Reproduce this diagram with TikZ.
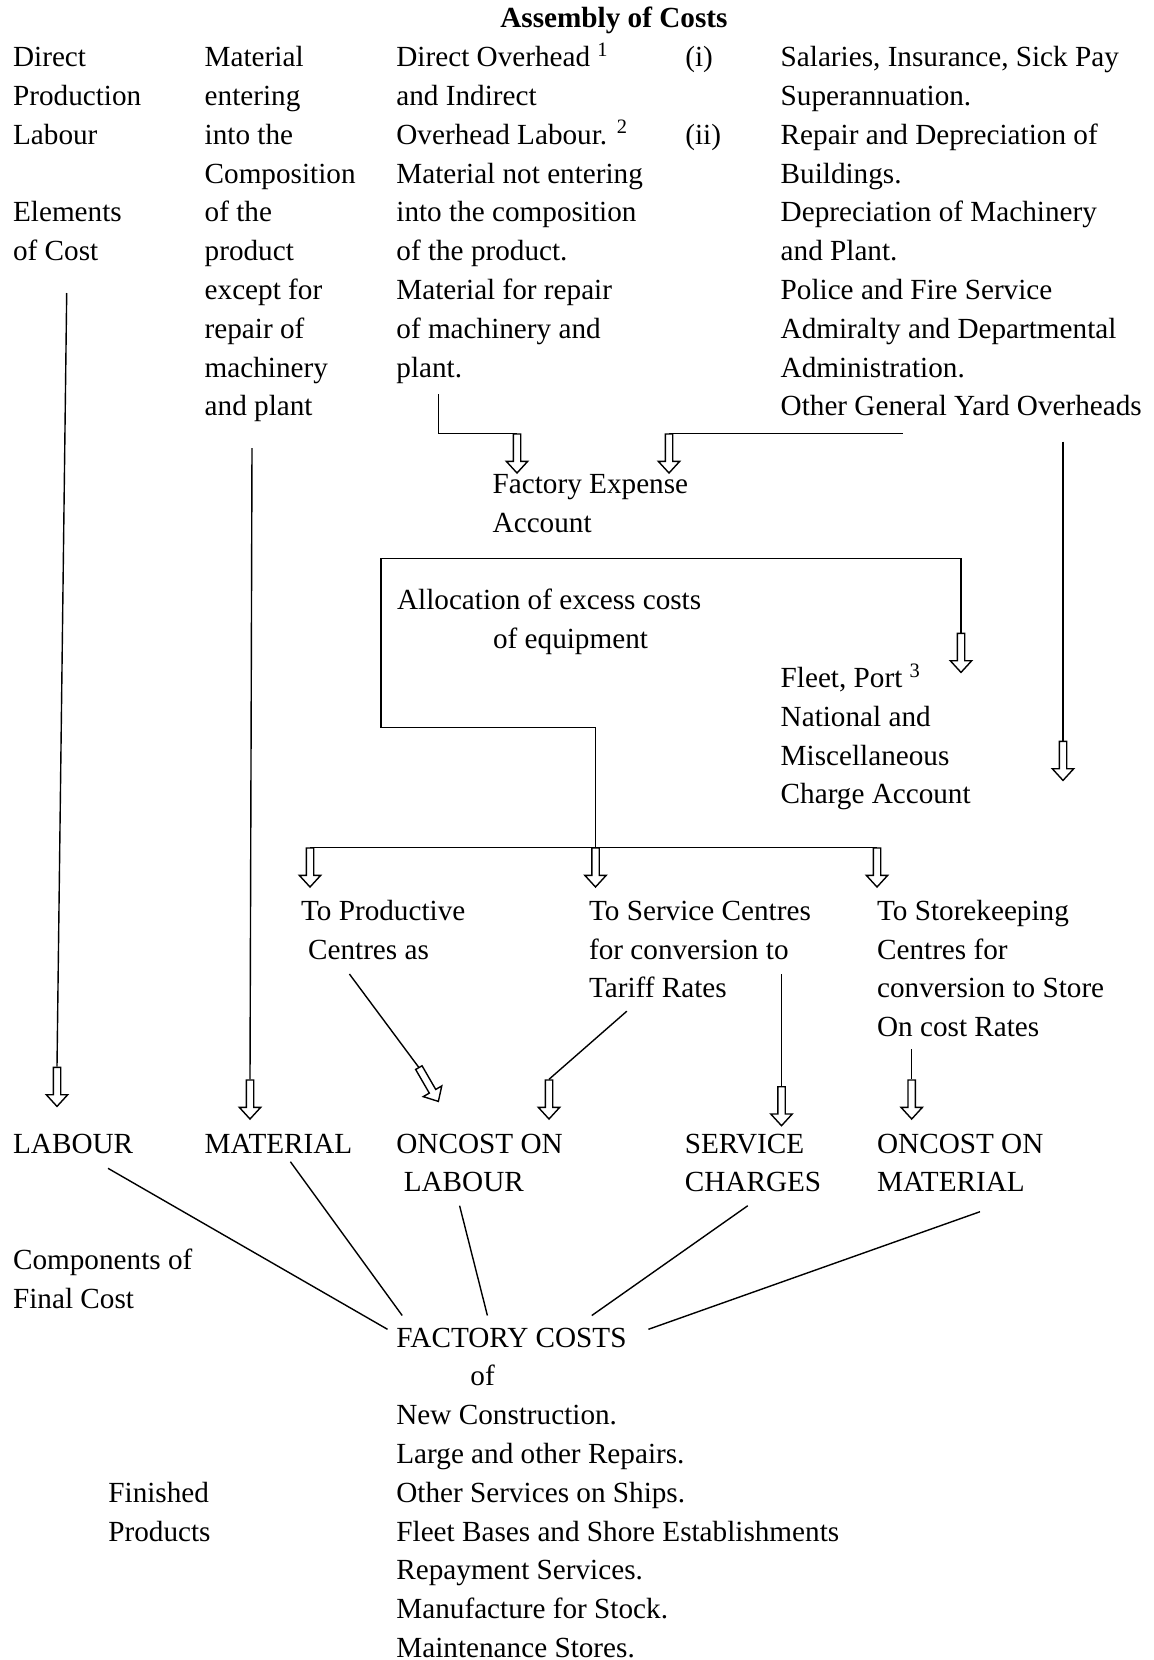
\documentclass[tikz,border=0pt]{standalone}
\usepackage{fontspec}
\setmainfont{Liberation Serif}
\usetikzlibrary{shapes.arrows}
\newcommand\costsize{\fontsize{14.6pt}{19.4pt}\selectfont}
\tikzset{
    %Define hollow block arrow
    hollowarrow/.style={
             single arrow,
             draw=black, fill=white, line width=0.7pt,
             inner xsep=0pt, inner ysep=1.5pt,
             single arrow head extend=3.5pt,
             single arrow tip angle=85,
             minimum height=19.5pt,
             anchor=tail},
    downarrow/.style={
             hollowarrow,
             rotate=-90},
    %Define style for text blocks (placed by their last line)
    costtext/.style={
             anchor=base west, align=left,
             inner sep=0pt,
             font=\costsize},
    % Define line style
    costline/.style={
            line width=0.7pt}
}

\begin{document}
\begin{tikzpicture}[x=0.5pt, y=-0.5pt]
    \useasboundingbox (0,0) rectangle (1153,1660);
    % text blocks
    \node[costtext, font=\costsize\bfseries] (title) at (500,27.9) {Assembly of Costs};
    \node[costtext] (labourcol) at (12.7,260.7) {Direct\\Production\\Labour\\[19.4pt]Elements\\of Cost};
    \node[costtext] (materialcol) at (204.3,415.9) {Material\\entering\\into the\\Composition\\of the\\product\\except for\\repair of\\machinery\\and plant};
    \node[costtext] (overheadcol) at (396,377.1) {Direct Overhead \textsuperscript{1}\\and Indirect\\Overhead Labour. \textsuperscript{2}\\Material not entering\\into the composition\\of the product.\\Material for repair\\of machinery and\\plant.};
    \node[costtext] (romancol) at (685,144.3) {(i)\\[19.4pt](ii)};
    \node[costtext] (yardcol) at (780.3,415.9) {Salaries, Insurance, Sick Pay\\Superannuation.\\Repair and Depreciation of\\Buildings.\\Depreciation of Machinery\\and Plant.\\Police and Fire Service\\Admiralty and Departmental\\Administration.\\Other General Yard Overheads};
    \node[costtext] (expense) at (492.3,532.3) {Factory Expense\\Account};
    \node[costtext] (alloc) at (396.7,648.7) {Allocation of excess costs\\\hspace*{48pt}of equipment};
    \node[costtext] (fleet) at (780.3,803.9) {Fleet, Port \textsuperscript{3}\\National and\\Miscellaneous\\Charge Account};
    \node[costtext] (toprod) at (300.7,959.1) {To Productive\\\hspace*{3.5pt}Centres as};
    \node[costtext] (toserv) at (588.7,997.9) {To Service Centres\\for conversion to\\Tariff Rates};
    \node[costtext] (tostore) at (876.7,1036.7) {To Storekeeping\\Centres for\\conversion to Store\\On cost Rates};
    \node[costtext] (labour) at (12.7,1153.1) {LABOUR};
    \node[costtext] (material) at (204.3,1153.1) {MATERIAL};
    \node[costtext] (oncostlab) at (396,1191.9) {ONCOST ON\\\hspace*{3.7pt}LABOUR};
    \node[costtext] (service) at (684.5,1191.9) {SERVICE\\CHARGES};
    \node[costtext] (oncostmat) at (876.7,1191.9) {ONCOST ON\\MATERIAL};
    \node[costtext] (components) at (12.7,1308.3) {Components of\\Final Cost};
    \node[costtext] (factory) at (396,1657.5) {FACTORY COSTS\\\hspace*{37pt}of\\New Construction.\\Large and other Repairs.\\Other Services on Ships.\\Fleet Bases and Shore Establishments\\Repayment Services.\\Manufacture for Stock.\\Maintenance Stores.};
    \node[costtext] (finished) at (108,1541.1) {Finished\\Products};
    % hollow arrows
    \node[downarrow] (a1) at (57,1066.7) {};
    \node[downarrow] (a2) at (250,1079.3) {};
    \node[downarrow] (a3) at (517,433.3) {};
    \node[downarrow] (a4) at (669,433.3) {};
    \node[downarrow] (a5) at (961,632.7) {};
    \node[downarrow] (a6) at (310,847.3) {};
    \node[downarrow] (a7) at (595.5,847.3) {};
    \node[downarrow] (a8) at (877,847.3) {};
    \node[downarrow] (a9) at (1063,740.7) {};
    \node[hollowarrow, rotate=-60] (a10) at (418.5,1067) {};
    \node[downarrow] (a11) at (549,1079.3) {};
    \node[downarrow] (a12) at (781.5,1086) {};
    \node[downarrow] (a13) at (911.7,1079.3) {};
    % line ends
    \coordinate (labtop) at (66.7,293);
    \coordinate (mattop) at (252,448);
    \coordinate (planttop) at (438.3,394);
    \coordinate (yardend) at (902.7,433.3);
    \coordinate (boxtop) at (381,558.7);
    \coordinate (boxbot) at (595.5,727.3);
    \coordinate (fleettop) at (1063,441.7);
    \coordinate (prodfoot) at (349.4,974);
    \coordinate (tarifffoot) at (626.8,1011.2);
    \coordinate (servtop) at (781.5,974);
    \coordinate (storefoot) at (911.7,1049);
    \coordinate (labfoot) at (108,1168.3);
    \coordinate (matfoot) at (290.4,1161.7);
    \coordinate (olabfoot) at (459.6,1205.7);
    \coordinate (servfoot) at (747.8,1205.7);
    \coordinate (omatfoot) at (980,1211.7);
    \coordinate (fc1) at (387.5,1329.3);
    \coordinate (fc2) at (402.2,1315.5);
    \coordinate (fc3) at (487.4,1315.5);
    \coordinate (fc4) at (591.8,1315.5);
    \coordinate (fc5) at (648.4,1329.3);
    % connectors
    \draw[costline] (labtop) -- (a1.tail);
    \draw[costline] (mattop) -- (a2.tail);
    \draw[costline] (planttop) |- (a3.tail);
    \draw[costline] (yardend) -- (a4.tail);
    \draw[costline] (a5.tail) |- (boxtop) |- (boxbot) -- (a7.tail);
    \draw[costline] (a6.tail) -- (a8.tail);
    \draw[costline] (fleettop) -- (a9.tail);
    \draw[costline] (prodfoot) -- (a10.tail);
    \draw[costline] (tarifffoot) -- (a11.tail);
    \draw[costline] (servtop) -- (a12.tail);
    \draw[costline] (storefoot) -- (a13.tail);
    \draw[costline] (labfoot) -- (fc1);
    \draw[costline] (matfoot) -- (fc2);
    \draw[costline] (olabfoot) -- (fc3);
    \draw[costline] (servfoot) -- (fc4);
    \draw[costline] (omatfoot) -- (fc5);
\end{tikzpicture}
\end{document}
